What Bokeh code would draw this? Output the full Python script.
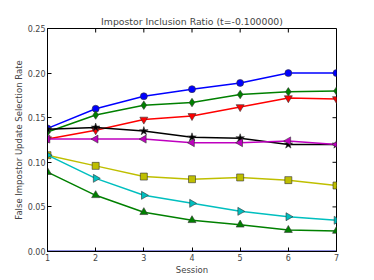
import math
from bokeh.plotting import figure
from bokeh.models import Range1d, FixedTicker, NumeralTickFormatter
from bokeh.embed import file_html
from bokeh.resources import INLINE

sessions = [1, 2, 3, 4, 5, 6, 7]
zero_series = [0, 0, 0, 0, 0, 0, 0]
blue_circle = [0.138, 0.160, 0.174, 0.182, 0.189, 0.200, 0.200]
green_diamond = [0.134, 0.153, 0.164, 0.167, 0.176, 0.179, 0.180]
red_down = [0.126, 0.136, 0.148, 0.152, 0.162, 0.172, 0.171]
black_star = [0.137, 0.139, 0.135, 0.128, 0.127, 0.120, 0.120]
magenta_left = [0.126, 0.126, 0.126, 0.122, 0.122, 0.124, 0.120]
yellow_square = [0.108, 0.096, 0.084, 0.081, 0.083, 0.080, 0.074]
cyan_right = [0.108, 0.082, 0.063, 0.054, 0.045, 0.039, 0.035]
green_up = [0.089, 0.063, 0.044, 0.035, 0.030, 0.024, 0.023]

y_ticks = [0.0, 0.05, 0.10, 0.15, 0.20, 0.25]
x_ticks = [1, 2, 3, 4, 5, 6, 7]

FONT = "DejaVu Sans"
W, H = 374, 280
FL, FR, FT, FB = 47, 336, 28, 251  # frame edges in page pixels
X0, X1, Y0, Y1 = 1, 7, 0.0, 0.25

p = figure(width=W, height=H, output_backend="svg", toolbar_location=None,
           x_range=Range1d(X0, X1), y_range=Range1d(Y0, Y1),
           min_border_left=FL, min_border_right=W - FR,
           min_border_top=FT, min_border_bottom=H - FB,
           x_axis_label="Session", y_axis_label="False Impostor Update Selection Rate")
p.title.text = "Impostor Inclusion Ratio (t=-0.100000)"
p.title.align = "center"
p.title.text_font = FONT
p.title.text_font_size = "9.3px"
p.title.text_font_style = "normal"
p.title.standoff = 3
p.grid.visible = False
p.outline_line_color = "black"
p.outline_line_width = 1
p.background_fill_color = "white"
p.border_fill_color = "white"

for ax in (p.xaxis[0], p.yaxis[0]):
    ax.major_tick_in = 4
    ax.major_tick_out = 0
    ax.minor_tick_in = 0
    ax.minor_tick_out = 0
    ax.major_label_text_font = FONT
    ax.major_label_text_font_size = "8px"
    ax.axis_label_text_font = FONT
    ax.axis_label_text_font_size = "8.5px"
    ax.axis_label_text_font_style = "normal"
    ax.major_label_standoff = 2
    ax.axis_label_standoff = 1
    ax.axis_line_color = "black"
p.xaxis[0].ticker = FixedTicker(ticks=x_ticks)
p.yaxis[0].ticker = FixedTicker(ticks=y_ticks)
p.yaxis[0].formatter = NumeralTickFormatter(format="0.00")

# inward ticks on the top and right frame edges (length 4 px converted to data units)
tx = 4 * (X1 - X0) / (FR - FL)
ty = 4 * (Y1 - Y0) / (FB - FT)
p.segment(x0=x_ticks, y0=[Y1] * len(x_ticks), x1=x_ticks, y1=[Y1 - ty] * len(x_ticks),
          line_color="black", line_width=1)
p.segment(x0=[X1] * len(y_ticks), y0=y_ticks, x1=[X1 - tx] * len(y_ticks), y1=y_ticks,
          line_color="black", line_width=1)

p.line(sessions, zero_series, color="#2020c0", line_width=2)

series = [
    (blue_circle, "#0000ff", "circle", 0.0, 7),
    (green_diamond, "#008000", "diamond", 0.0, 8.5),
    (red_down, "#ff0000", "inverted_triangle", 0.0, 8),
    (black_star, "#000000", "star", 0.0, 9),
    (magenta_left, "#bf00bf", "triangle", math.pi / 2, 8),
    (yellow_square, "#bfbf00", "square", 0.0, 7),
    (cyan_right, "#00bfbf", "triangle", -math.pi / 2, 8),
    (green_up, "#008000", "triangle", 0.0, 8),
]
for vals, col, mk, ang, sz in series:
    p.line(sessions, vals, color=col, line_width=1.5)
    p.scatter(sessions, vals, marker=mk, angle=ang, size=sz, fill_color=col,
              line_color="#333333", line_width=0.6)

open("out.html", "w").write(file_html(p, INLINE))
